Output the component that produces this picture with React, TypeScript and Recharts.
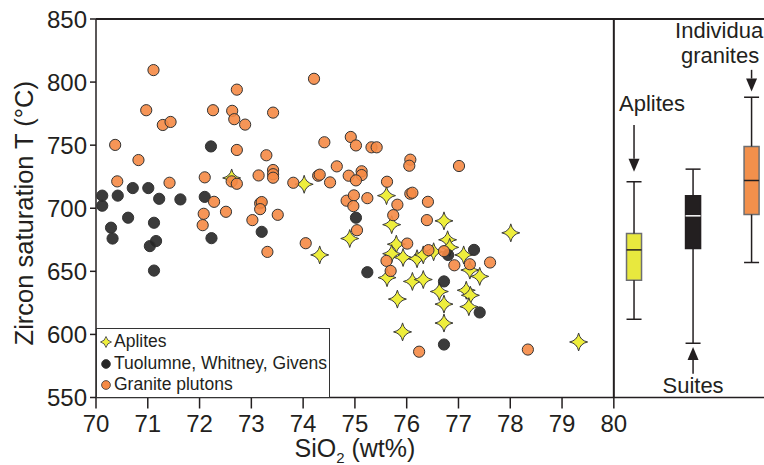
import React from 'react';
import {
  ScatterChart,
  Scatter,
  XAxis,
  YAxis,
  ReferenceLine,
  ReferenceArea,
  Legend,
  Label,
} from 'recharts';

const FONT = '"Liberation Sans", Arial, Helvetica, sans-serif';
const INK = '#231f20';

// [SiO2 (wt%), zircon saturation T (°C)] per sample
const aplites: [number, number][] = [
  [72.62, 724], [74.02, 719], [74.32, 663], [74.9, 676], [75.61, 710],
  [75.71, 687], [76.72, 690], [78.01, 680.5], [79.32, 594], [75.8, 671.5],
  [75.71, 664], [75.93, 661], [76.2, 660], [76.32, 663], [76.52, 665.5],
  [76.79, 675], [76.83, 669], [77.1, 663], [77.22, 651], [77.41, 646],
  [75.62, 645], [76.11, 642], [76.32, 643.5], [76.63, 634], [77.15, 635],
  [77.23, 631], [75.82, 628], [76.72, 624], [77.2, 622], [76.72, 609],
  [75.92, 602],
];

const suites: [number, number][] = [
  [72.22, 749], [70.12, 710], [70.42, 710], [70.71, 716], [71.01, 716],
  [71.22, 707.5], [71.63, 707], [72.1, 709], [70.12, 702], [70.62, 692.5],
  [70.29, 684.6], [70.32, 676], [71.12, 688.5], [71.16, 674], [71.04, 670],
  [71.12, 650.6], [72.23, 676.3], [73.2, 681.3], [75.02, 692.5], [75.24, 649.3],
  [76.72, 642], [77.3, 667], [76.8, 663], [77.41, 617.4], [76.72, 592],
];

const granitePlutons: [number, number][] = [
  [71.11, 809.5], [72.72, 794], [74.21, 802.6], [70.97, 777.7], [72.26, 777.7],
  [72.63, 777.2], [73.42, 775.8], [72.67, 770.6], [72.88, 766.3], [71.29, 766],
  [71.44, 768.4], [70.37, 750.2], [74.41, 752.3], [72.72, 746.2], [73.29, 742],
  [70.82, 738.2], [74.65, 733.2], [74.92, 756.5], [74.88, 725.8], [73.42, 730.3],
  [73.42, 727], [73.42, 724.2], [73.14, 726], [72.1, 724.5], [70.41, 721.3],
  [71.42, 720.2], [72.62, 721.3], [72.72, 719.4], [73.81, 720.2], [74.29, 725.8],
  [74.32, 726.6], [74.52, 720.5], [72.28, 705.1], [73.17, 703.9], [73.2, 704.9],
  [74.84, 706], [75.02, 749.8], [75.32, 748.3], [75.42, 748.3], [76.07, 738.5],
  [76.05, 733.7], [77.01, 733.5], [75.13, 729.3], [75.13, 726.3], [75.02, 722.1],
  [75.62, 721], [74.98, 710.2], [75.24, 708], [74.97, 701.7], [75.82, 702.8],
  [76.07, 711.5], [76.11, 712.3], [76.41, 705.1], [72.08, 695.6], [72.06, 686.6],
  [72.51, 697.2], [73.02, 690.6], [73.51, 694.8], [73.17, 699.3], [73.31, 665.4],
  [74.05, 672.3], [75.74, 694.5], [76.39, 690.6], [75.04, 682.6], [76.01, 672],
  [76.42, 666.8], [76.72, 666], [75.61, 658.3], [75.69, 650.3], [76.92, 654.8],
  [77.22, 655.6], [77.61, 657], [76.24, 586.3], [78.34, 588],
];

const xTicks = [70, 71, 72, 73, 74, 75, 76, 77, 78, 79, 80];
const yTicks = [550, 600, 650, 700, 750, 800, 850];

// box-plot summaries of saturation temperature (°C)
const boxGroups = ['Aplites', 'Suites', 'Individual granites'];
const boxMin = [612, 593, 657];
const boxQ1 = [643, 668, 695];
const boxMedian = [667, 694, 722];
const boxQ3 = [680, 710, 749];
const boxMax = [721, 731, 788];

// layout of the side panel, in SiO2 units along the shared x axis
const X_MAX = 82.9;
const BOX_SLOTS = [80.39, 81.53, 82.66];
const BOX_HALF = 0.145;
const BOX_FILL = ['#e8e83e', '#231f20', '#f2904c'];
const BOX_STROKE = ['#6d6e71', '#231f20', '#6d6e71'];
const MEDIAN_STROKE = ['#231f20', '#ffffff', '#231f20'];

const toPoints = (rows: [number, number][]) => rows.map(([x, y]) => ({ x, y }));

const StarShape = (props: any) => {
  const { cx, cy } = props;
  if (cx == null || cy == null) return <g />;
  const R = 9;
  const c = 1.5;
  const d =
    `M${cx},${cy - R} Q${cx + c},${cy - c} ${cx + R},${cy} ` +
    `Q${cx + c},${cy + c} ${cx},${cy + R} ` +
    `Q${cx - c},${cy + c} ${cx - R},${cy} ` +
    `Q${cx - c},${cy - c} ${cx},${cy - R} Z`;
  return <path d={d} fill="#eeee3c" stroke="#3a3a3a" strokeWidth={1} />;
};

const dot = (fill: string) => (props: any) => {
  const { cx, cy } = props;
  if (cx == null || cy == null) return <g />;
  return <circle cx={cx} cy={cy} r={5.6} fill={fill} fillOpacity={0.9} stroke="#333" strokeWidth={1} />;
};

const arrowShape = (lines: string[], dx: number[], dy: number[]) => (p: any) => {
  const { x1, y1, x2, y2 } = p;
  const ang = Math.atan2(y2 - y1, x2 - x1);
  const L = 13;
  const W = 5.5;
  const bx = x2 - L * Math.cos(ang);
  const by = y2 - L * Math.sin(ang);
  const px = -Math.sin(ang) * W;
  const py = Math.cos(ang) * W;
  return (
    <g>
      <line x1={x1} y1={y1} x2={bx} y2={by} stroke={INK} strokeWidth={1.5} />
      <polygon points={`${x2},${y2} ${bx + px},${by + py} ${bx - px},${by - py}`} fill={INK} />
      {lines.map((t, i) => (
        <text key={t} x={x1 + dx[i]} y={y1 + dy[i]} textAnchor="middle" fontSize={22} fontFamily={FONT} fill={INK}>
          {t}
        </text>
      ))}
    </g>
  );
};

const legendItems = [
  { name: 'Aplites', kind: 'star', fill: '#eeee3c' },
  { name: 'Tuolumne, Whitney, Givens', kind: 'dot', fill: '#262626' },
  { name: 'Granite plutons', kind: 'dot', fill: '#f58a45' },
];

const LegendBox = () => (
  <div
    style={{
      boxSizing: 'border-box',
      width: 234,
      height: 70,
      border: '1px solid #333',
      background: '#fff',
      padding: '2px 0 0 2px',
      fontFamily: FONT,
      fontSize: 17.5,
      lineHeight: '21.7px',
      color: INK,
    }}
  >
    {legendItems.map((it) => (
      <div key={it.name} style={{ display: 'flex', alignItems: 'center', height: 21.7, whiteSpace: 'nowrap' }}>
        <svg width={14} height={14} style={{ marginRight: 1, flex: 'none' }}>
          {it.kind === 'star' ? (
            <path
              d="M7,1.5 Q8,6 12.5,7 Q8,8 7,12.5 Q6,8 1.5,7 Q6,6 7,1.5 Z"
              fill={it.fill}
              stroke="#3a3a3a"
              strokeWidth={0.8}
            />
          ) : (
            <circle cx={7} cy={7} r={4.4} fill={it.fill} stroke="#333" strokeWidth={0.8} />
          )}
        </svg>
        <span>{it.name}</span>
      </div>
    ))}
  </div>
);

const YTitle = (props: any) => {
  const vb = props.viewBox || { x: 0, y: 0, width: 0, height: 0 };
  const x = vb.x + 33;
  const y = vb.y + vb.height / 2 + 5;
  return (
    <text x={x} y={y} transform={`rotate(-90, ${x}, ${y})`} textAnchor="middle" fontSize={25.5} fontFamily={FONT} fill={INK}>
      Zircon saturation T (°C)
    </text>
  );
};

const XTitle = (props: any) => {
  const vb = props.viewBox || { x: 0, y: 0, width: 0, height: 0 };
  const x = vb.x + (vb.width * (75 - 70)) / (X_MAX - 70);
  const y = vb.y + 59;
  return (
    <text x={x} y={y} textAnchor="middle" fontSize={25} fontFamily={FONT} fill={INK}>
      SiO
      <tspan fontSize={15} dy={6.5}>2</tspan>
      <tspan dy={-6.5}> (wt%)</tspan>
    </text>
  );
};

const boxElements = boxGroups.flatMap((g, i) => {
  const s = BOX_SLOTS[i];
  const line = { stroke: INK, strokeWidth: 1.5 };
  return [
    <ReferenceLine key={`${g}-lw`} segment={[{ x: s, y: boxMin[i] }, { x: s, y: boxQ1[i] }]} {...line} />,
    <ReferenceLine key={`${g}-uw`} segment={[{ x: s, y: boxQ3[i] }, { x: s, y: boxMax[i] }]} {...line} />,
    <ReferenceLine key={`${g}-lc`} segment={[{ x: s - BOX_HALF, y: boxMin[i] }, { x: s + BOX_HALF, y: boxMin[i] }]} {...line} />,
    <ReferenceLine key={`${g}-uc`} segment={[{ x: s - BOX_HALF, y: boxMax[i] }, { x: s + BOX_HALF, y: boxMax[i] }]} {...line} />,
    <ReferenceArea
      key={`${g}-box`}
      x1={s - BOX_HALF}
      x2={s + BOX_HALF}
      y1={boxQ1[i]}
      y2={boxQ3[i]}
      fill={BOX_FILL[i]}
      fillOpacity={1}
      stroke={BOX_STROKE[i]}
      strokeWidth={1.5}
    />,
    <ReferenceLine
      key={`${g}-med`}
      segment={[{ x: s - BOX_HALF, y: boxMedian[i] }, { x: s + BOX_HALF, y: boxMedian[i] }]}
      stroke={MEDIAN_STROKE[i]}
      strokeWidth={1.5}
    />,
  ];
});

export default function App() {
  return (
    <div style={{ position: 'absolute', left: 0, top: 0, width: 764, height: 465, background: '#fff' }}>
      <ScatterChart width={764} height={465} margin={{ top: 19, right: 0, bottom: 0, left: 0 }}>
        <XAxis
          type="number"
          dataKey="x"
          domain={[70, X_MAX]}
          ticks={xTicks}
          interval={0}
          allowDataOverflow
          height={67.5}
          tickSize={11}
          tickMargin={6}
          axisLine={{ stroke: INK, strokeWidth: 1.5 }}
          tickLine={{ stroke: INK, strokeWidth: 1.5 }}
          tick={{ fill: INK, fontSize: 24, fontFamily: FONT }}
          label={<Label content={XTitle} />}
        />
        <YAxis
          type="number"
          dataKey="y"
          domain={[550, 850]}
          ticks={yTicks}
          interval={0}
          allowDataOverflow
          width={96}
          tickSize={6}
          tickMargin={3}
          axisLine={{ stroke: INK, strokeWidth: 1.5 }}
          tickLine={{ stroke: INK, strokeWidth: 1.5 }}
          tick={{ fill: INK, fontSize: 24, fontFamily: FONT }}
          label={<Label content={YTitle} />}
        />
        <ReferenceLine y={850} stroke={INK} strokeWidth={2} />
        <ReferenceLine x={80} stroke={INK} strokeWidth={2} />
        {boxElements}
        <ReferenceLine
          segment={[{ x: 80.39, y: 766 }, { x: 80.39, y: 729 }]}
          shape={arrowShape(['Aplites'], [18], [-13.5])}
        />
        <ReferenceLine
          segment={[{ x: 81.53, y: 568.8 }, { x: 81.53, y: 590 }]}
          shape={arrowShape(['Suites'], [0], [19.5])}
        />
        <ReferenceLine
          segment={[{ x: 82.66, y: 809.7 }, { x: 82.66, y: 792.5 }]}
          shape={arrowShape(['Individual', 'granites'], [-30, -31.5], [-31.7, -6.7])}
        />
        <Scatter name="Aplites" data={toPoints(aplites)} shape={StarShape} isAnimationActive={false} />
        <Scatter name="Tuolumne, Whitney, Givens" data={toPoints(suites)} shape={dot('#262626')} isAnimationActive={false} />
        <Scatter name="Granite plutons" data={toPoints(granitePlutons)} shape={dot('#f58a45')} isAnimationActive={false} />
        <Legend
          layout="horizontal"
          verticalAlign="middle"
          align="center"
          wrapperStyle={{ left: 96, top: 328, width: 234, height: 70 }}
          content={() => <LegendBox />}
        />
      </ScatterChart>
    </div>
  );
}
